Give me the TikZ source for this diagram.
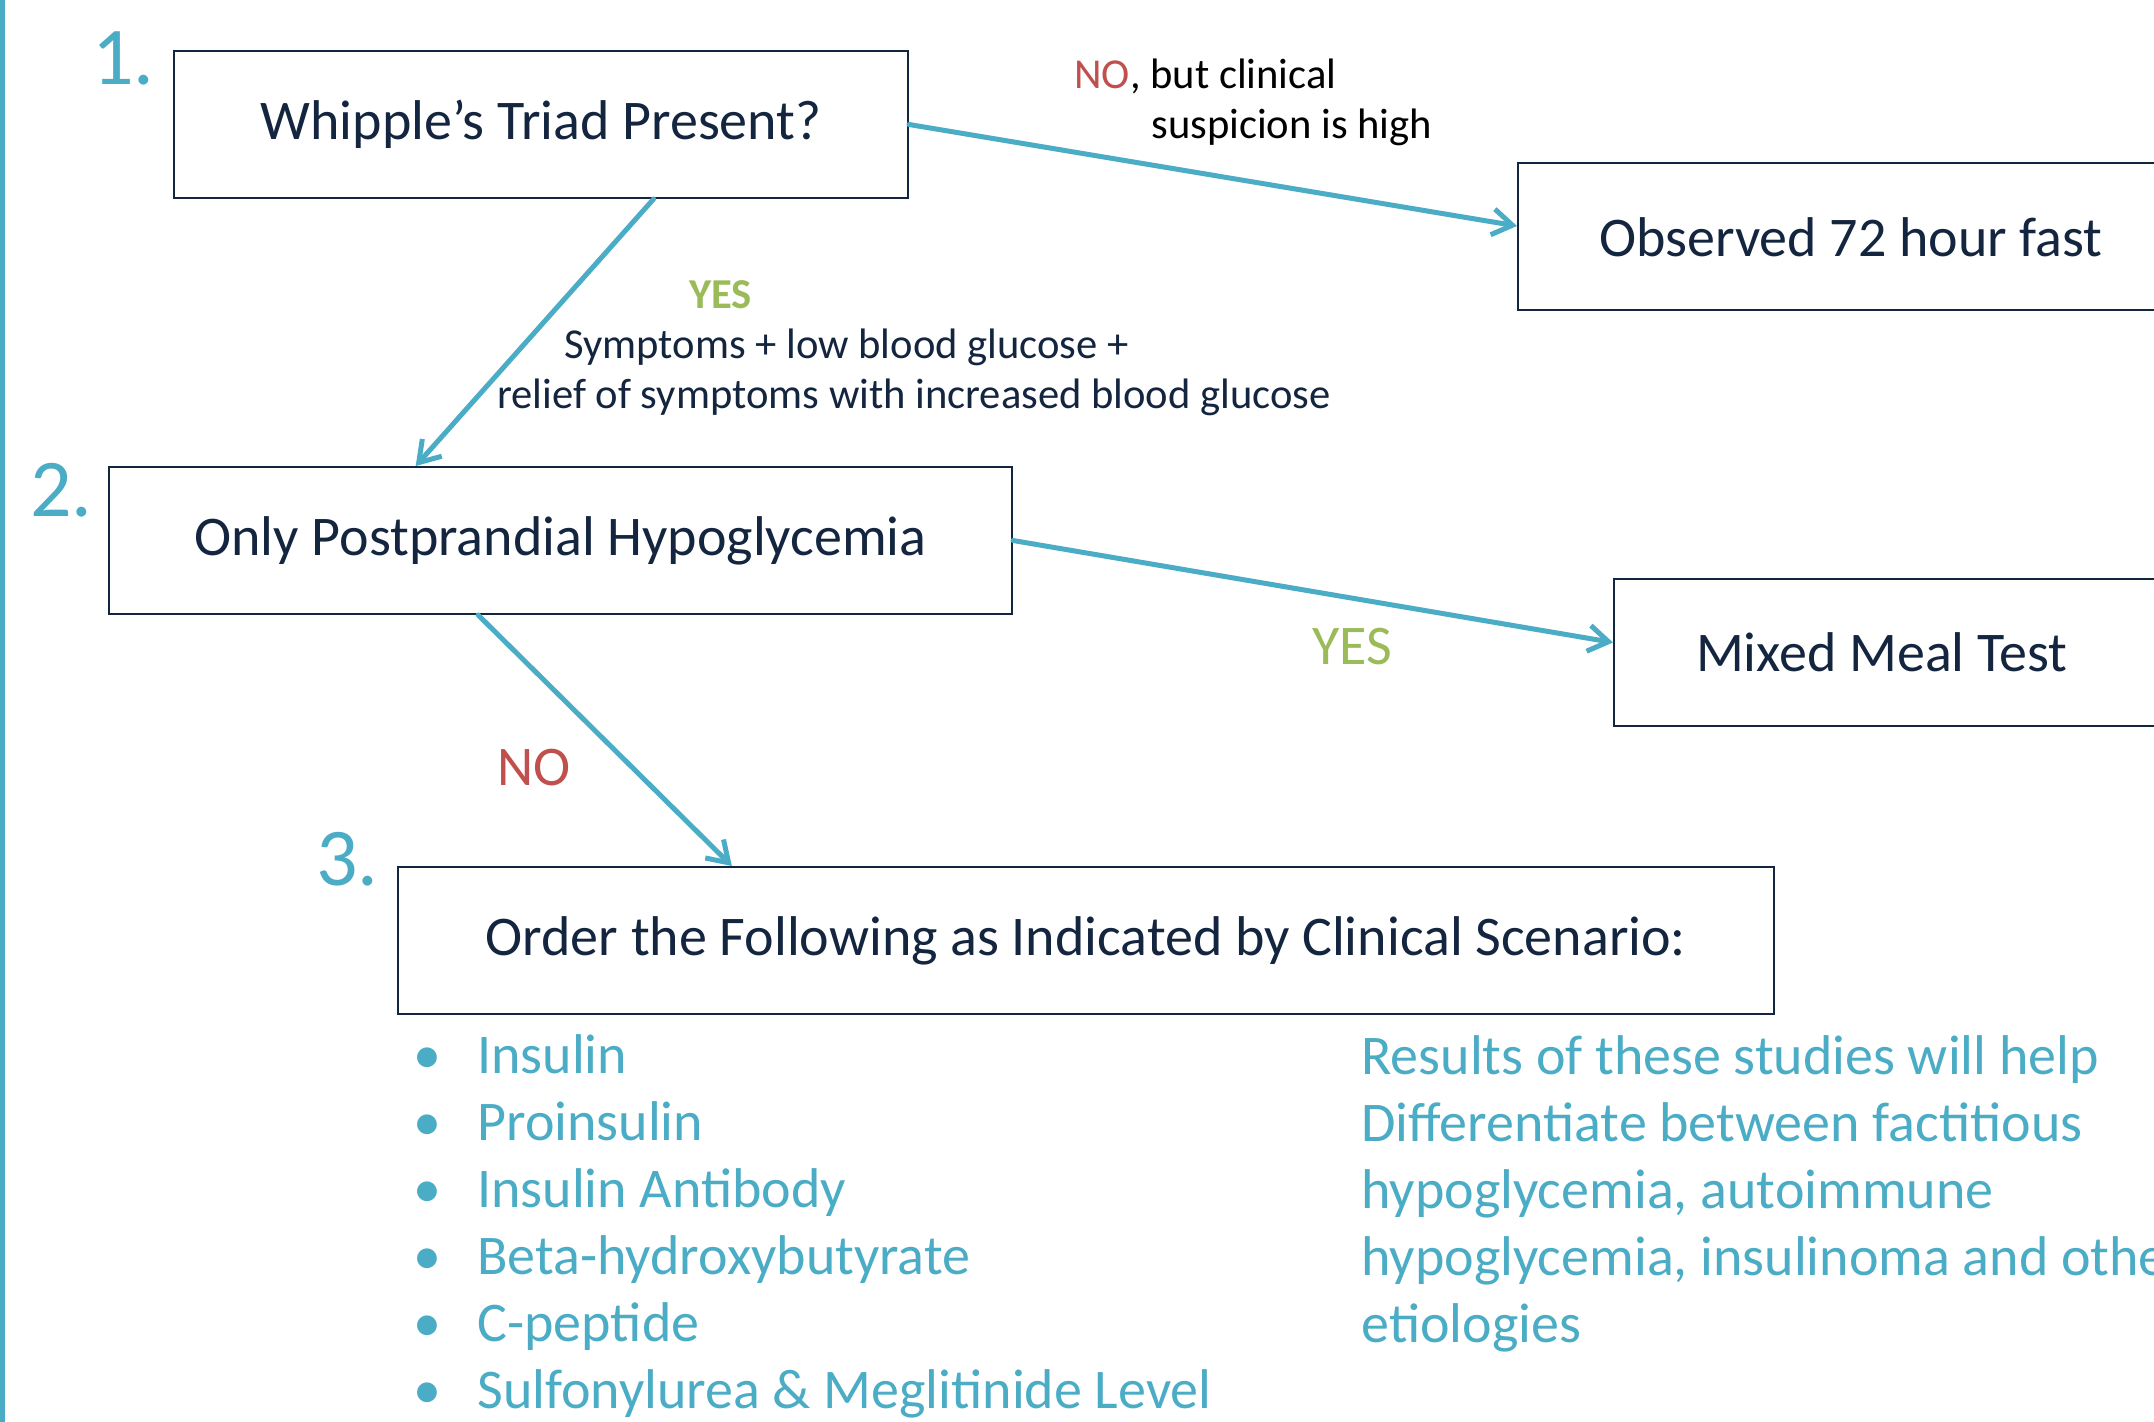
\documentclass[tikz,border=0pt]{standalone}
\usepackage{fontspec}
\setmainfont{Carlito}
\usetikzlibrary{arrows.meta,calc}
\definecolor{aqua}{HTML}{4BACC6}
\definecolor{navy}{HTML}{14253F}
\definecolor{nored}{HTML}{C0504D}
\definecolor{yesgreen}{HTML}{9BBB59}
\begin{document}
\begin{tikzpicture}[x=0.5pt,y=-0.5pt,
  box/.style={draw=navy,line width=1pt,rectangle,anchor=west,minimum height=73.5pt,text=navy,font=\fontsize{28}{33.5}\selectfont},
  num/.style={text=aqua,anchor=base west,inner sep=0pt,font=\fontsize{41}{49}\selectfont},
  note/.style={align=left,anchor=base west,inner sep=0pt,font=\fontsize{21.3}{25}\selectfont},
  tag/.style={anchor=base west,inner sep=0pt,font=\fontsize{28}{33.5}\selectfont},
  list/.style={align=left,anchor=base west,inner sep=0pt,text=aqua,font=\fontsize{28}{33.5}\selectfont},
  flow/.style={->,draw=aqua,line width=2.5pt,line cap=round},
  >={Straight Barb[length=10pt,width=13pt]}]
\path[use as bounding box,clip] (0,0) rectangle (2154,1422);
\fill[white] (0,0) rectangle (2154,1422);
\fill[aqua] (0,0) rectangle (5,1422);
\node[box,minimum width=367pt] (why) at (173,124.5) {Whipple’s Triad Present?};
\node[box,minimum width=451.5pt] (postp) at (108,540.5) {Only Postprandial Hypoglycemia};
\node[box,minimum width=688pt] (order) at (397,940.5) {Order the Following as Indicated by Clinical Scenario:};
\node[box,inner xsep=40.5pt,text width=280pt,align=flush left] (obs) at (1517,237) {Observed 72 hour fast};
\node[box,inner xsep=41pt,text width=220pt,align=flush left] (meal) at (1613,652.5) {Mixed Meal Test};
\node[num] (n1) at (92,85) {1.};
\node[num] (n2) at (30,517) {2.};
\node[num] (n3) at (316,885) {3.};
\draw[flow] (why.east) -- ($(obs.west)+(0,-11)$);
\draw[flow] ($(why.south west)!0.653!(why.south east)$) -- ($(postp.north west)!0.34!(postp.north east)$);
\draw[flow] (postp.east) -- ($(meal.west)+(0,-10)$);
\draw[flow] ($(postp.south west)!0.409!(postp.south east)$) -- ($(order.north west)!0.243!(order.north east)$);
\node[note,text=black] (nolab) at (1074,139) {\textcolor{nored}{NO}, but clinical\\\hspace*{38.5pt}suspicion is high};
\node[note,text=navy] (yeslab) at (497,409) {\hspace*{96pt}\textcolor{yesgreen}{\bfseries YES}\\\hspace*{33.5pt}Symptoms + low blood glucose +\\relief of symptoms with increased blood glucose};
\node[tag,text=yesgreen] (yes2) at (1312,665) {YES};
\node[tag,text=nored] (no2) at (497,785) {NO};
\node[list] (tests) at (413,1408) {\makebox[32pt][l]{•}Insulin\\\makebox[32pt][l]{•}Proinsulin\\\makebox[32pt][l]{•}Insulin Antibody\\\makebox[32pt][l]{•}Beta-hydroxybutyrate\\\makebox[32pt][l]{•}C-peptide\\\makebox[32pt][l]{•}Sulfonylurea \& Meglitinide Level};
\node[list] (why2) at (1361,1342) {Results of these studies will help\\Differentiate between factitious\\hypoglycemia, autoimmune\\hypoglycemia, insulinoma and other\\etiologies};
\end{tikzpicture}
\end{document}
